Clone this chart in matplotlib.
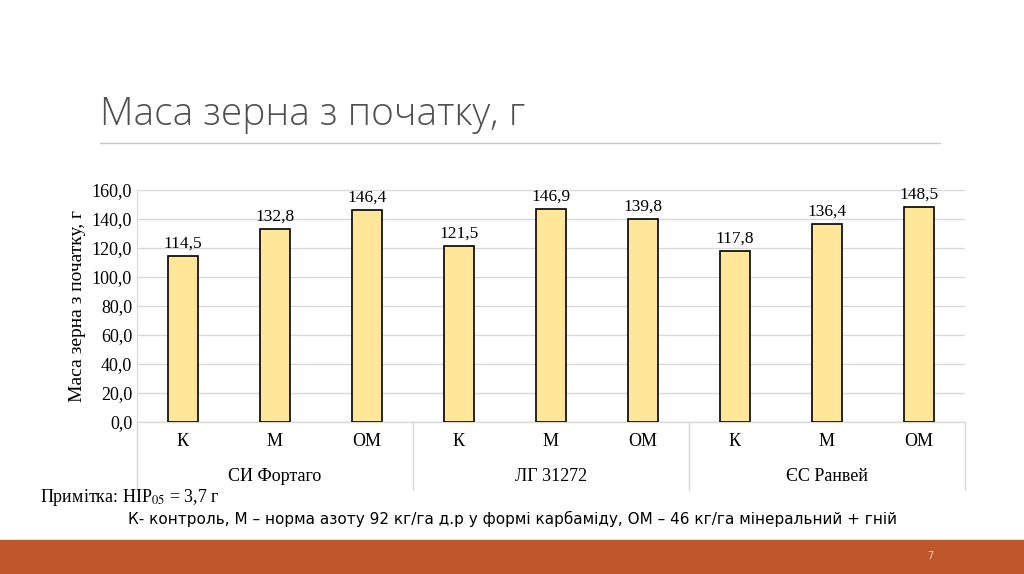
import matplotlib
matplotlib.use('agg')
import matplotlib.pyplot as plt
import matplotlib.patches as patches

groups = ['СИ Фортаго', 'ЛГ 31272', 'ЄС Ранвей']
treatments = ['К', 'М', 'ОМ']
values = [114.5, 132.8, 146.4, 121.5, 146.9, 139.8, 117.8, 136.4, 148.5]
yticks = [0, 20, 40, 60, 80, 100, 120, 140, 160]

serif = 'Liberation Serif'
plt.rcParams['mathtext.fontset'] = 'stix'
fig = plt.figure(figsize=(10.24, 5.74), dpi=100)

# title and rule
fig.text(100/1024, 1-115/574, 'Маса зерна з початку, г', fontsize=28, color='#505050',
         family='Open Sans', weight='light', va='center', ha='left')
fig.add_artist(plt.Line2D([100/1024, 940/1024], [1-143/574]*2, color='#c8c8c8', lw=1))

ax = fig.add_axes([137/1024, 1-422/574, 828/1024, 232/574])
x = list(range(len(values)))
ax.bar(x, values, width=0.33, color='#FFE699', edgecolor='black', lw=1.2, zorder=3)
for xi, v in zip(x, values):
    ax.text(xi, v + 3, f'{v:.1f}'.replace('.', ','), ha='center', va='bottom',
            fontsize=12.5, family=serif)
ax.set_xlim(-0.5, len(values) - 0.5)
ax.set_ylim(0, 160)
ax.set_yticks(yticks)
ax.set_yticklabels([f'{t:.1f}'.replace('.', ',') for t in yticks], fontsize=13, family=serif)
ax.grid(axis='y', color='#d9d9d9', lw=1, zorder=0)
ax.tick_params(length=0, axis='both')
ax.set_xticks([])
for s in ['top', 'right', 'bottom']:
    ax.spines[s].set_visible(False)
ax.spines['left'].set_color('#d9d9d9')
ax.set_ylabel('Маса зерна з початку, г', fontsize=14, family=serif)

# category axis
tr = ax.transAxes
ax.plot([0, 1], [0, 0], transform=tr, color='#d9d9d9', lw=1, clip_on=False)
for gx in [0, 1/3, 2/3, 1]:
    ax.plot([gx, gx], [0, -0.293], transform=tr, color='#d9d9d9', lw=1, clip_on=False)
for i, xi in enumerate(x):
    ax.text(xi, -0.086, treatments[i % 3], transform=ax.get_xaxis_transform(),
            ha='center', va='center', fontsize=13, family=serif)
for g, name in enumerate(groups):
    ax.text((g + 0.5) / 3, -0.237, name, transform=tr, ha='center', va='center',
            fontsize=13, family=serif)

fig.text(40/1024, 1-497/574, 'Примітка: НІР$_{05}$ = 3,7 г', fontsize=13, family=serif, va='center')
fig.text(512/1024, 1-519/574, 'К- контроль, М – норма азоту 92 кг/га д.р у формі карбаміду, ОМ – 46 кг/га мінеральний + гній',
         fontsize=11, family='DejaVu Sans', ha='center', va='center')

fig.add_artist(patches.Rectangle((0, 0), 1, 34/574, transform=fig.transFigure,
                                 color='#BE572C'))
fig.text(930/1024, 1-556/574, '7', fontsize=7, color='#f0d0c0', ha='center', va='center')

fig.savefig('out.png', dpi=100)
